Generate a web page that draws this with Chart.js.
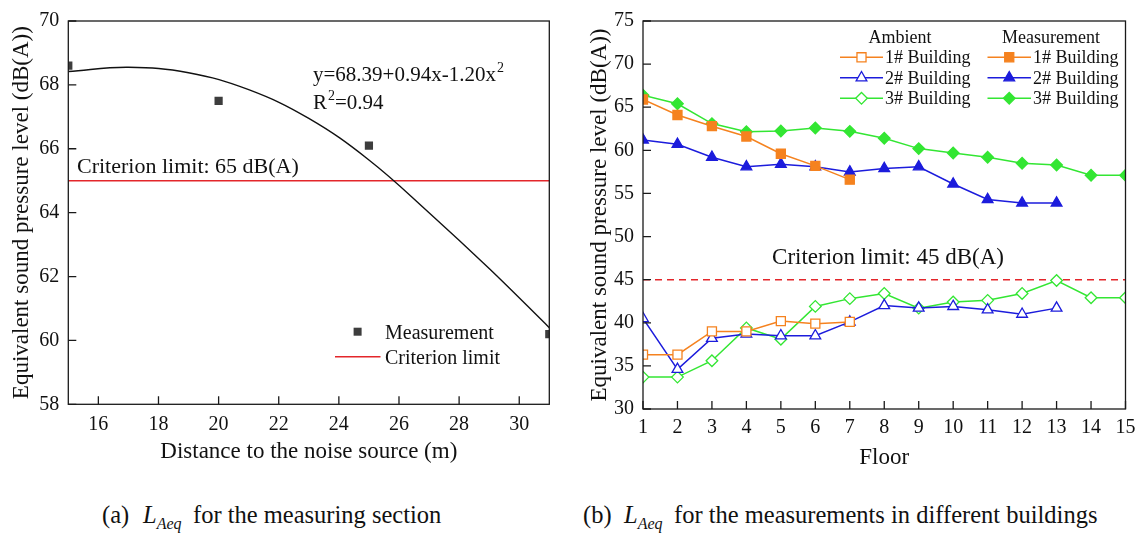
<!DOCTYPE html>
<html>
<head>
<meta charset="utf-8">
<script src="https://cdn.jsdelivr.net/npm/chart.js@4.4.1/dist/chart.umd.min.js"></script>
<style>
  body { margin: 0; background: #fff; width: 1142px; height: 537px; position: relative; overflow: hidden; font-family: 'Liberation Serif', serif; color: #111; }
  canvas { position: absolute; top: 0; }
  #section-chart { left: 0; }
  #floor-chart { left: 575px; }
  .cap { position: absolute; top: 500px; font-size: 24.5px; line-height: 30px; white-space: nowrap; }
  .cap sub { font-size: 16px; font-style: italic; vertical-align: -6px; }
</style>
</head>
<body>
<canvas id="section-chart" width="575" height="475"></canvas>
<canvas id="floor-chart" width="567" height="475"></canvas>

<span class="cap" style="left:102px">(a)</span>
<span class="cap" style="left:143px"><i>L</i><sub>Aeq</sub></span>
<span class="cap" style="left:193px">for the measuring section</span>
<span class="cap" style="left:583px">(b)</span>
<span class="cap" style="left:624px"><i>L</i><sub>Aeq</sub></span>
<span class="cap" style="left:674px">for the measurements in different buildings</span>

<script>
// --- (a) measuring section ---
const distance = [15, 20, 25, 31];
const sectionLevel = [68.6, 67.5, 66.1, 60.2];
// points
const fitDistance = [15, 17, 19, 21, 23, 25, 27, 29, 31];
const fitLevel = [68.42, 68.55, 68.38, 67.85, 66.95, 65.65, 64.0, 62.25, 60.4];
const distanceRange = [15, 31];
const sectionLimit = 65;
const distanceTicks = [16, 18, 20, 22, 24, 26, 28, 30];
const sectionTicks = [58, 60, 62, 64, 66, 68, 70];

// --- (b) floors of the three buildings ---
const floors = [1, 2, 3, 4, 5, 6, 7, 8, 9, 10, 11, 12, 13, 14, 15];
const ambient1 = [36.3, 36.3, 39.0, 39.0, 40.2, 39.9, 40.1];
const ambient2 = [40.5, 34.6, 38.2, 38.7, 38.5, 38.5, 40.1, 42.0, 41.7, 41.9, 41.5, 41.0, 41.7];
const ambient3 = [33.7, 33.7, 35.6, 39.4, 38.1, 41.9, 42.8, 43.4, 41.7, 42.4, 42.6, 43.4, 44.9, 42.9, 42.9];
const measured1 = [65.9, 64.1, 62.8, 61.6, 59.6, 58.2, 56.6];
const measured2 = [61.2, 60.7, 59.2, 58.1, 58.4, 58.1, 57.5, 57.9, 58.1, 56.1, 54.3, 53.9, 53.9];
const measured3 = [66.4, 65.4, 63.1, 62.15, 62.25, 62.6, 62.2, 61.4, 60.2, 59.7, 59.2, 58.5, 58.3, 57.1, 57.1];
const floorRange = [1, 15];
const buildingLimit = 45;
const floorTicks = [1, 2, 3, 4, 5, 6, 7, 8, 9, 10, 11, 12, 13, 14, 15];
const buildingTicks = [30, 35, 40, 45, 50, 55, 60, 65, 70, 75];

const serif = "'Liberation Serif', 'Times New Roman', serif";
const ink = '#111';
const red = '#e3262b';
const orange = '#f5821f';
const blue = '#1c1cdc';
const green = '#33e633';

const pts = (xs, ys) => ys.map((y, i) => ({ x: xs[i], y: y }));
const fixTicks = list => scale => { scale.ticks = list.map(v => ({ value: v })); };

// closed frame + short inward tick marks
const frame = {
  id: 'frame',
  afterDatasetsDraw(chart) {
    const { ctx, chartArea: a, scales: { x, y } } = chart;
    ctx.save();
    ctx.strokeStyle = '#1a1a1a';
    ctx.lineWidth = 1.3;
    ctx.strokeRect(a.left, a.top, a.right - a.left, a.bottom - a.top);
    ctx.beginPath();
    x.ticks.forEach(t => {
      const px = x.getPixelForValue(t.value);
      ctx.moveTo(px, a.bottom); ctx.lineTo(px, a.bottom - 8);
    });
    y.ticks.forEach(t => {
      const py = y.getPixelForValue(t.value);
      ctx.moveTo(a.left, py); ctx.lineTo(a.left + 8, py);
    });
    ctx.stroke();
    ctx.restore();
  }
};

function axes(xr, xt, xTitle, yr, yt, yWidth, xHeight, tickPad, yTitlePad) {
  return {
    x: {
      type: 'linear', min: xr[0], max: xr[1],
      afterBuildTicks: fixTicks(xt),
      afterFit: s => { s.height = xHeight; },
      grid: { display: false, drawTicks: false },
      border: { display: false },
      ticks: { font: { family: serif, size: 20 }, color: ink, padding: tickPad },
      title: { display: true, text: xTitle, font: { family: serif, size: 23 }, color: ink, padding: 0 }
    },
    y: {
      type: 'linear', min: yr[0], max: yr[1],
      afterBuildTicks: fixTicks(yt),
      afterFit: s => { s.width = yWidth; },
      grid: { display: false, drawTicks: false },
      border: { display: false },
      ticks: { font: { family: serif, size: 20 }, color: ink, padding: 9 },
      title: { display: true, text: 'Equivalent sound pressure level (dB(A))', font: { family: serif, size: 23 }, color: ink, padding: { top: yTitlePad, bottom: 0 } }
    }
  };
}

// text with a superscript "2" after the first part
function supText(ctx, before, after, x, y) {
  ctx.font = '21px ' + serif;
  ctx.fillText(before, x, y);
  x += ctx.measureText(before).width;
  ctx.font = '14px ' + serif;
  ctx.fillText('2', x + 1, y - 9);
  x += ctx.measureText('2').width + 1;
  ctx.font = '21px ' + serif;
  ctx.fillText(after, x, y);
}

const sectionNotes = {
  id: 'sectionNotes',
  afterDraw(chart) {
    const ctx = chart.ctx;
    ctx.save();
    ctx.fillStyle = ink;
    ctx.textAlign = 'left';
    ctx.textBaseline = 'alphabetic';
    supText(ctx, 'y=68.39+0.94x-1.20x', '', 313, 81);
    supText(ctx, 'R', '=0.94', 313, 109);
    ctx.font = '22px ' + serif;
    ctx.fillText('Criterion limit: ' + sectionLimit + ' dB(A)', 77, 173);

    // legend
    ctx.fillStyle = '#3d3d3d';
    ctx.fillRect(353.6, 327.7, 8, 8);
    ctx.strokeStyle = red;
    ctx.lineWidth = 1.4;
    ctx.beginPath();
    ctx.moveTo(335, 356.7); ctx.lineTo(380.5, 356.7);
    ctx.stroke();
    ctx.fillStyle = ink;
    ctx.font = '20px ' + serif;
    ctx.fillText('Measurement', 385, 338.5);
    ctx.fillText('Criterion limit', 385, 363.5);
    ctx.restore();
  }
};

new Chart(document.getElementById('section-chart'), {
  type: 'scatter',
  data: {
    datasets: [
      { label: 'Measurement', data: pts(distance, sectionLevel), pointStyle: 'rect', pointRadius: 5.8,
        backgroundColor: '#3d3d3d', borderColor: '#3d3d3d', borderWidth: 0, clip: 0 },
      { label: 'Fit', data: pts(fitDistance, fitLevel), showLine: true, borderColor: ink, borderWidth: 1.4,
        pointRadius: 0, tension: 0.4, clip: 0 },
      { label: 'Criterion limit', data: pts(distanceRange, [sectionLimit, sectionLimit]), showLine: true,
        borderColor: red, borderWidth: 1.4, pointRadius: 0 }
    ]
  },
  options: {
    responsive: false, animation: false, events: [],
    layout: { padding: { top: 18.3, right: 25.7, bottom: 9.2, left: 0 } },
    plugins: { legend: { display: false }, tooltip: { enabled: false } },
    scales: axes(distanceRange, distanceTicks, 'Distance to the noise source (m)', [58, 70], sectionTicks, 68.3, 61.5, 8, 8)
  },
  plugins: [frame, sectionNotes]
});

// building styles shared by lines and legend
const buildings = [
  { name: '1# Building', color: orange, style: 'rect', radius: 6.4, ambient: ambient1, measured: measured1 },
  { name: '2# Building', color: blue, style: 'triangle', radius: 6.2, ambient: ambient2, measured: measured2 },
  { name: '3# Building', color: green, style: 'rectRot', radius: 5.8, ambient: ambient3, measured: measured3 }
];

function buildingSet(b, values, open) {
  return {
    label: b.name, data: pts(floors, values), showLine: true, tension: 0, clip: 0,
    borderColor: b.color, borderWidth: 1.5, backgroundColor: b.color,
    pointStyle: b.style, pointRadius: b.radius, pointBorderWidth: 1.3,
    pointBorderColor: b.color, pointBackgroundColor: open ? '#fff' : b.color
  };
}

const floorNotes = {
  id: 'floorNotes',
  afterDraw(chart) {
    const ctx = chart.ctx;
    ctx.save();
    ctx.fillStyle = ink;
    ctx.textBaseline = 'alphabetic';
    ctx.font = '23px ' + serif;
    ctx.textAlign = 'center';
    ctx.fillText('Criterion limit: ' + buildingLimit + ' dB(A)', 313, 264);

    ctx.font = '18px ' + serif;
    ctx.fillText('Ambient', 325, 43);
    ctx.fillText('Measurement', 476, 43);
    const rows = [57.3, 77.7, 98.3];
    const cols = [{ x0: 265, x1: 308, open: true }, { x0: 412.5, x1: 456, open: false }];
    buildings.forEach((b, i) => {
      const y = rows[i];
      cols.forEach(c => {
        ctx.strokeStyle = b.color;
        ctx.lineWidth = 1.5;
        ctx.beginPath();
        ctx.moveTo(c.x0, y); ctx.lineTo(c.x1, y);
        ctx.stroke();
        ctx.fillStyle = c.open ? '#fff' : b.color;
        ctx.lineWidth = 1.3;
        Chart.helpers.drawPoint(ctx, { pointStyle: b.style, radius: b.radius, borderWidth: 1.3, rotation: 0 }, (c.x0 + c.x1) / 2, y);
        ctx.fillStyle = ink;
        ctx.textAlign = 'left';
        ctx.fillText(b.name, c.x1 + 2, y + 6);
      });
    });
    ctx.restore();
  }
};

new Chart(document.getElementById('floor-chart'), {
  type: 'scatter',
  data: {
    datasets: [
      ...buildings.map(b => buildingSet(b, b.measured, false)),
      ...buildings.map(b => buildingSet(b, b.ambient, true)),
      { label: 'Criterion limit', data: pts(floorRange, [buildingLimit, buildingLimit]), showLine: true,
        borderColor: red, borderWidth: 1.5, borderDash: [7, 5], pointRadius: 0 }
    ]
  },
  options: {
    responsive: false, animation: false, events: [],
    layout: { padding: { top: 18.3, right: 14.5, bottom: 3.2, left: 0 } },
    plugins: { legend: { display: false }, tooltip: { enabled: false } },
    scales: axes(floorRange, floorTicks, 'Floor', [30, 75], buildingTicks, 68, 62.8, 6.5, 11)
  },
  plugins: [frame, floorNotes]
});
</script>
</body>
</html>
